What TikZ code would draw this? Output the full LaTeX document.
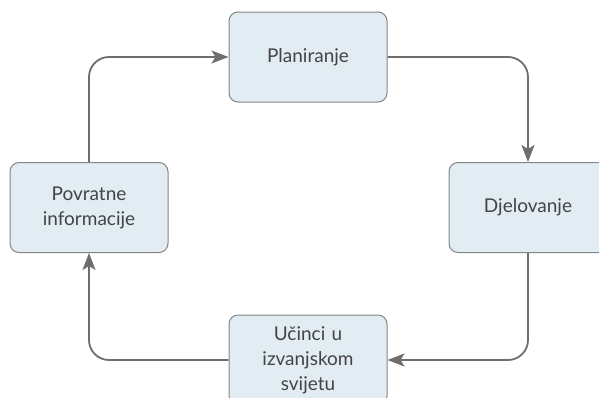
\documentclass[tikz,border=0pt]{standalone}
\usepackage{fontspec}
\setmainfont{Lato}
\usetikzlibrary{arrows.meta}
\definecolor{boxfill}{HTML}{E2ECF3}
\definecolor{boxline}{HTML}{858585}
\definecolor{flowline}{HTML}{6E6E6E}
\definecolor{labeltext}{HTML}{444444}
\begin{document}
\begin{tikzpicture}[x=1pt, y=-1pt,
  stage/.style={draw=boxline, line width=1pt, fill=boxfill, rounded corners=9pt,
    minimum width=158pt, minimum height=90pt, text width=140pt, align=center,
    text=labeltext, font=\fontsize{19}{25}\selectfont},
  flow/.style={draw=flowline, line width=1.8pt, rounded corners=20pt,
    -{Stealth[length=17pt, width=13pt, inset=4pt]}}]
\clip (0,0) rectangle (599,397);
\node[stage] (plan) at (308,57) {Planiranje};
\node[stage] (djel) at (528,207.5) {Djelovanje};
\node[stage] (ucin) at (308,360) {Učinci u\\izvanjskom\\svijetu};
\node[stage] (povr) at (89,207.5) {Povratne\\informacije};

\draw[flow] (plan.east) -| (djel.north);
\draw[flow] (djel.south) |- (ucin.east);
\draw[flow] (ucin.west) -| (povr.south);
\draw[flow] (povr.north) |- (plan.west);
\end{tikzpicture}
\end{document}
